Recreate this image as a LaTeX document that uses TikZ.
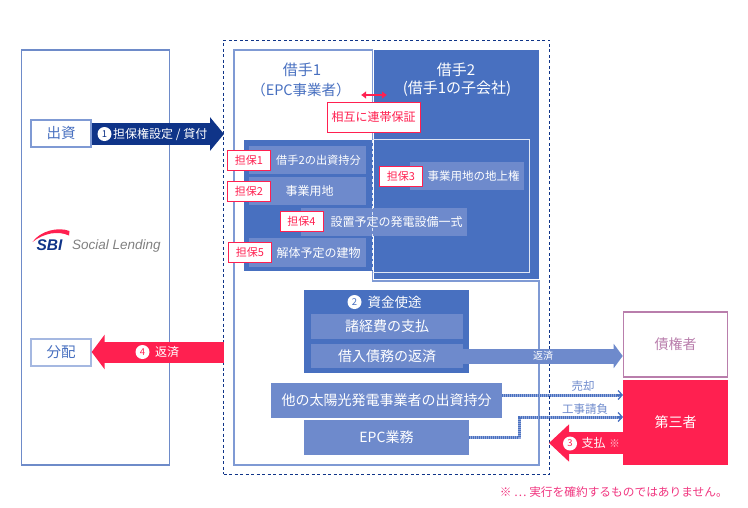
\documentclass[tikz,border=0pt]{standalone}
\usepackage{xcolor}
\usepackage{fontspec}
\setmainfont{Noto Sans CJK JP}
\newfontfamily\logofont{Liberation Sans}
\usetikzlibrary{arrows.meta}
\definecolor{mainblue}{HTML}{4870C0}
\definecolor{lightblue}{HTML}{6E8ACC}
\definecolor{edgeblue}{HTML}{7F9AD4}
\definecolor{darknavy}{HTML}{0F3488}
\definecolor{hotred}{HTML}{FF2050}
\definecolor{plum}{HTML}{B97EAC}
\definecolor{notepink}{HTML}{F0357F}
\tikzset{
  txt/.style={inner sep=0pt, font=\fontsize{#1}{#1}\selectfont},
  lightbox/.style={fill=lightblue, text=white, inner sep=0pt, font=\fontsize{#1}{#1}\selectfont},
  tag/.style={draw=hotred, line width=1pt, fill=white, text=hotred, inner sep=0pt, minimum width=43, minimum height=20, font=\fontsize{11}{11}\selectfont},
  sidebox/.style={draw=edgeblue, line width=1.3pt, fill=white, text=mainblue, inner sep=0pt, minimum width=60, minimum height=27, font=\fontsize{14.5}{14.5}\selectfont},
  numdot/.style={circle, fill=white, inner sep=0pt, minimum size=14, text=#1, font=\fontsize{9.5}{9.5}\selectfont},
  dotbase/.style={lightblue!75!white, line width=3pt},
  dotline/.style={mainblue, line width=3pt, dash pattern=on 1pt off 1pt},
  dottip/.style={mainblue, line width=1.3pt, -{Straight Barb[length=4pt,width=9pt,line width=1.3pt]}}
}
\begin{document}
\begin{tikzpicture}[x=1pt,y=-1pt]
\useasboundingbox (0,0) rectangle (748,507);
\node[draw=edgeblue!85!darknavy, line width=1.6pt, minimum width=148, minimum height=415, inner sep=0pt] (lender) at (95.5,257.5) {};
\draw[edgeblue, line width=1.3pt] (234,50) -- (372.5,50) -- (372.5,281) -- (539,281) -- (539,465) -- (234,465) -- cycle;
\fill[mainblue] (374,50) rectangle (539,279);
\fill[mainblue] (244,140) rectangle (373,271);
\draw[white!75!edgeblue, line width=1pt] (373,139) -- (529.5,139) -- (529.5,272) -- (373,272);
\node[txt=15, text=mainblue] (firstname) at (302,70) {借手1};
\node[txt=14.5, text=mainblue] (firstrole) at (301,90) {（EPC事業者）};
\node[txt=15, text=white] (secondname) at (456,70) {借手2};
\node[txt=15, text=white] (secondrole) at (457,89) {(借手1の子会社)};
\coordinate (guarleft) at (361,95);
\coordinate (guarright) at (387,95);
\draw[hotred, line width=1.6pt, {Latex[length=5pt,width=8pt]}-{Latex[length=5pt,width=8pt]}] (guarleft) -- (guarright);
\node[draw=hotred, line width=1pt, fill=white, text=hotred, inner sep=0pt, minimum width=93, minimum height=30, font=\fontsize{12}{12}\selectfont] (guarantee) at (373.5,117) {相互に連帯保証};
\node[lightbox=11.2, minimum width=117, minimum height=28] (equity) at (307.5,160) {\hspace*{22pt}借手2の出資持分};
\node[lightbox=12, minimum width=117, minimum height=28] (land) at (307.5,191) {\hspace*{4pt}事業用地};
\node[lightbox=12, minimum width=166, minimum height=28] (equip) at (384,222) {\hspace*{25pt}設置予定の発電設備一式};
\node[lightbox=12, minimum width=117, minimum height=29] (demol) at (307.5,252.5) {\hspace*{22pt}解体予定の建物};
\node[lightbox=11.5, minimum width=114, minimum height=28] (surface) at (467,176) {\hspace*{13pt}事業用地の地上権};
\draw[white!75!edgeblue, line width=1pt, dash pattern=on 3pt off 2.5pt] (372.5,140) -- (372.5,271);
\node[tag] (tagone) at (249,160.5) {担保1};
\node[tag] (tagtwo) at (249,191) {担保2};
\node[tag] (tagfour) at (301.5,221.5) {担保4};
\node[tag] (tagfive) at (250,252.5) {担保5};
\node[tag] (tagthree) at (401,176) {担保3};
\node[fill=mainblue, text=white, minimum width=165, minimum height=83, inner sep=0pt] (funds) at (386.5,331.5) {};
\node[numdot=mainblue] (numtwo) at (354.5,302) {2};
\node[txt=13.5, text=white] (fundstitle) at (394.5,302) {資金使途};
\node[lightbox=14, minimum width=152, minimum height=25] (costs) at (387,326.5) {諸経費の支払};
\node[lightbox=14, minimum width=152, minimum height=24] (repay) at (387,356) {借入債務の返済};
\node[lightbox=14, minimum width=231, minimum height=35] (other) at (386.5,400.5) {他の太陽光発電事業者の出資持分};
\node[lightbox=14, minimum width=165, minimum height=35] (epc) at (386.5,437.5) {EPC業務};
\node[draw=plum, line width=1.6pt, text=plum, minimum width=104, minimum height=65, inner sep=0pt, font=\fontsize{14}{14}\selectfont] (creditor) at (675.5,344.5) {債権者};
\node[fill=hotred, text=white, minimum width=105, minimum height=85, inner sep=0pt, font=\fontsize{14}{14}\selectfont] (third) at (675.5,422.5) {第三者};
\coordinate (sellstart) at (502,395);
\coordinate (sellend) at (623,395);
\coordinate (worksbend) at (519,437.5);
\coordinate (worksend) at (623,417);
\draw[dotbase] (sellstart) -- ([xshift=-2pt]sellend);
\draw[dotline] (sellstart) -- ([xshift=-2pt]sellend);
\draw[dottip] ([xshift=-6pt]sellend) -- (sellend);
\draw[dotbase] (epc.east) -- (worksbend) -- (worksbend |- worksend) -- ([xshift=-2pt]worksend);
\draw[dotline] (epc.east) -- (worksbend) -- (worksbend |- worksend) -- ([xshift=-2pt]worksend);
\draw[dottip] ([xshift=-6pt]worksend) -- (worksend);
\node[draw=darknavy, line width=0.8pt, dash pattern=on 3pt off 2.5pt, minimum width=326, minimum height=434, inner sep=0pt] (group) at (386.5,257) {};
\draw[lightblue, line width=15pt, -{Triangle[length=9pt,width=24pt]}] (repay.east) -- (repay.east -| creditor.west);
\node[txt=10, text=white] (repaylabel) at (543,356) {返済};
\node[txt=11.5, text=lightblue] (selllabel) at (583,386) {売却};
\node[txt=11.5, text=lightblue] (workslabel) at (585,409.5) {工事請負};
\node[sidebox] (invest) at (61,133.5) {出資};
\node[sidebox, draw=edgeblue!70!white] (alloc) at (61,352.5) {分配};
\coordinate (loanend) at (224,134);
\coordinate (backstart) at (224,352);
\coordinate (payend) at (549,443);
\draw[darknavy, line width=22pt, -{Triangle[length=14pt,width=33pt]}] (invest.east |- loanend) -- (loanend);
\draw[hotred, line width=21pt, -{Triangle[length=13pt,width=34pt]}] (backstart) -- (alloc.east |- backstart);
\draw[hotred, line width=22pt, -{Triangle[length=20pt,width=36pt]}] (third.west |- payend) -- (payend);
\node[numdot=darknavy] (numone) at (104.5,134) {1};
\node[txt=12, text=white, anchor=west] (loanlabel) at (113,134) {担保権設定 / 貸付};
\node[numdot=hotred] (numfour) at (142.5,352) {4};
\node[txt=12, text=white] (backlabel) at (167,352) {返済};
\node[numdot=hotred] (numthree) at (570,443.5) {3};
\node[txt=12, text=white, anchor=west] (paylabel) at (581.5,443) {支払};
\node[txt=10.5, text=white!80!hotred] (paymark) at (614.5,443.5) {※};
\node[txt=11.7, text=notepink, anchor=east] (footnote) at (728,492) {※ ⋯ 実行を確約するものではありません。};
\fill[hotred] (32.5,242) .. controls (40,231) and (58,226.5) .. (69.5,231) -- (69,235.5) .. controls (58,230.5) and (44,233) .. cycle;
\node[inner sep=0pt, text=darknavy, font=\logofont\bfseries\itshape\fontsize{15.5}{15.5}\selectfont] (sbilogo) at (49.5,245.5) {SBI};
\node[inner sep=0pt, text=gray, font=\logofont\itshape\fontsize{13.5}{13.5}\selectfont, anchor=west] (sociallogo) at (72,246.5) {Social Lending};
\end{tikzpicture}
\end{document}
